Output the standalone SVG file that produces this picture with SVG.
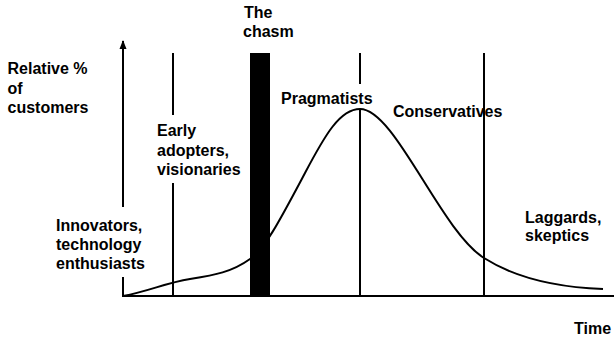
<svg xmlns="http://www.w3.org/2000/svg" width="614" height="339" viewBox="0 0 614 339">
<style>
text{font-family:"Liberation Sans",Arial,sans-serif;font-weight:bold;font-size:16px;fill:#000}
.ln{stroke:#000;stroke-width:2;fill:none}
</style>
<defs>
<marker id="ah" markerWidth="9" markerHeight="8" refX="8" refY="4" orient="auto" markerUnits="userSpaceOnUse" viewBox="0 0 9 8">
<path d="M0,0.5 L9,4 L0,7.5 Z" fill="#000"/>
</marker>
</defs>
<rect width="614" height="339" fill="#fff"/>
<g id="axes">
<line class="ln" x1="123" y1="207" x2="123" y2="41" marker-end="url(#ah)"/>
<line class="ln" x1="123" y1="277" x2="123" y2="296"/>
<line class="ln" x1="122" y1="296" x2="614" y2="296"/>
</g>
<g id="dividers">
<line class="ln" x1="173" y1="53" x2="173" y2="115"/>
<line class="ln" x1="173" y1="183" x2="173" y2="296"/>
<line class="ln" x1="360" y1="53" x2="360" y2="84"/>
<line class="ln" x1="360" y1="109" x2="360" y2="296"/>
<line class="ln" x1="484" y1="53" x2="484" y2="296"/>
</g>
<g id="connectors">
<path id="curve" class="ln" d="M123,296 C150,291 165,283 190,279 C215,275 232,272 250,259 C265,249 280,220 305,173 C325,135 340,109 360,109 C395,109 440,230 484,258 C510,274.5 550,287 603,289"/>
</g>
<g id="chasm">
<rect x="250" y="53" width="20" height="243" fill="#000"/>
<text x="244" y="18">The</text>
<text x="243" y="37">chasm</text>
</g>
<g id="yaxis-label">
<text x="7.5" y="74">Relative %</text>
<text x="7.5" y="93.5">of</text>
<text x="7.5" y="113">customers</text>
</g>
<g id="innovators">
<text x="56" y="230.5">Innovators,</text>
<text x="56" y="249.5">technology</text>
<text x="56" y="268.5">enthusiasts</text>
</g>
<g id="early-adopters">
<text x="157" y="136">Early</text>
<text x="157" y="155.5">adopters,</text>
<text x="157" y="175">visionaries</text>
</g>
<g id="pragmatists">
<text x="281" y="104">Pragmatists</text>
</g>
<g id="conservatives">
<text x="393" y="117">Conservatives</text>
</g>
<g id="laggards">
<text x="525" y="222.5">Laggards,</text>
<text x="525" y="241">skeptics</text>
</g>
<g id="time-label">
<text x="574" y="333.5">Time</text>
</g>
</svg>
